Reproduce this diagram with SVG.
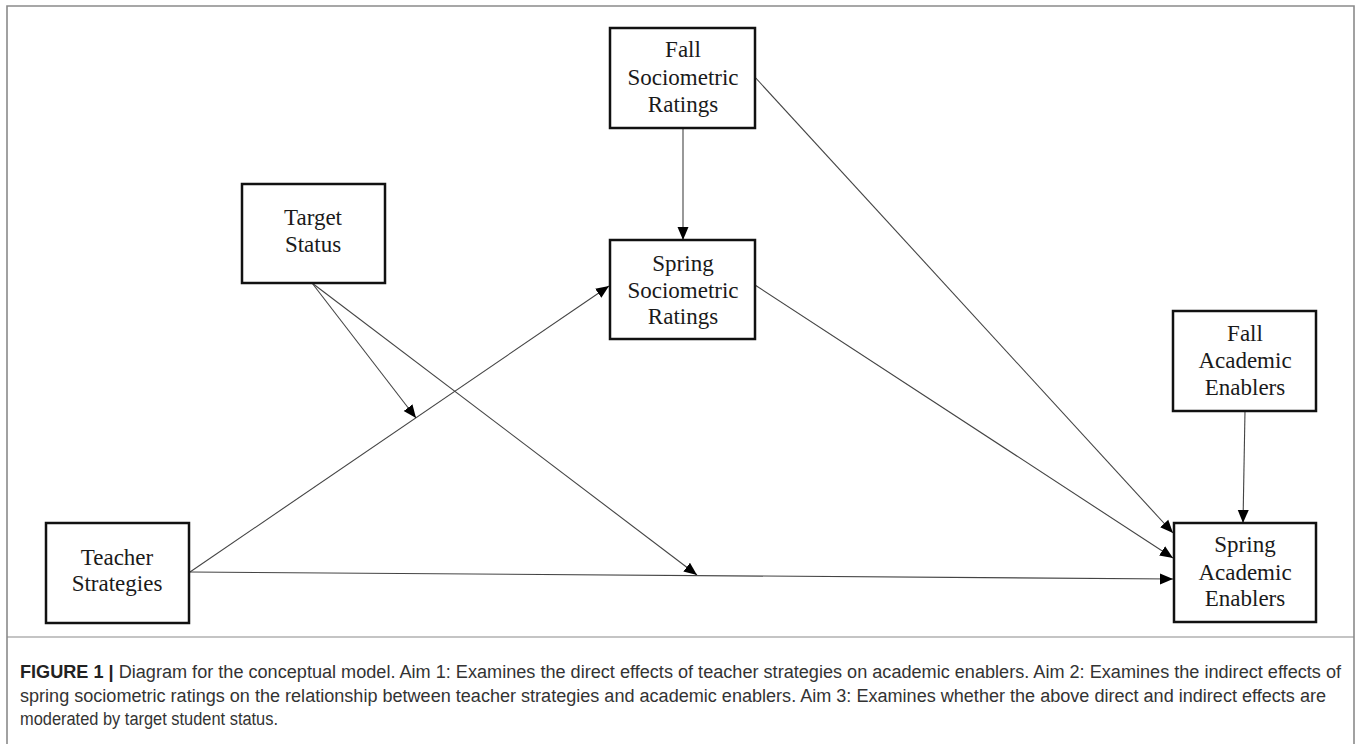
<svg xmlns="http://www.w3.org/2000/svg" width="1358" height="744" viewBox="0 0 1358 744">
<style>
.box{fill:#fff;stroke:#111;stroke-width:2.5}
.lbl{font-family:"Liberation Serif","Times New Roman",serif;font-size:23px;fill:#1a1a1a;text-anchor:middle}
.conn{stroke:#444;stroke-width:1.1;fill:none;marker-end:url(#ah)}
.cap{font-family:"Liberation Sans",Arial,sans-serif;font-size:18px;fill:#333}
.frame{fill:none;stroke:#8a8a8a;stroke-width:1.6}
</style>
<defs>
<marker id="ah" markerUnits="userSpaceOnUse" markerWidth="14" markerHeight="12" refX="13" refY="6" orient="auto">
<path d="M0,0.5 L13,6 L0,11.5 Z" fill="#000"/>
</marker>
</defs>
<rect x="0" y="0" width="1358" height="744" fill="#fff"/>
<path class="frame" d="M7,750 L7,6 L1354,6 L1354,750"/>
<line x1="7" y1="637" x2="1354" y2="637" stroke="#8a8a8a" stroke-width="1.2"/>

<g id="connectors">
<path class="conn" d="M683,128 L683,240"/>
<path class="conn" d="M753,75 L1173,533"/>
<path class="conn" d="M755,285 L1173,558"/>
<path class="conn" d="M190,572 L609,286"/>
<path class="conn" d="M190,572 L1173,579"/>
<path class="conn" d="M312,283 L416,418"/>
<path class="conn" d="M312,283 L697,575"/>
<path class="conn" d="M1245,411 L1243,523"/>
</g>

<g id="fall-sociometric">
<rect class="box" x="610" y="28" width="145" height="100"/>
<text class="lbl" x="683" y="57">Fall</text>
<text class="lbl" x="683" y="85">Sociometric</text>
<text class="lbl" x="683" y="112">Ratings</text>
</g>
<g id="target-status">
<rect class="box" x="242" y="184" width="143" height="99"/>
<text class="lbl" x="313" y="225">Target</text>
<text class="lbl" x="313" y="252">Status</text>
</g>
<g id="spring-sociometric">
<rect class="box" x="610" y="240" width="145" height="99"/>
<text class="lbl" x="683" y="271">Spring</text>
<text class="lbl" x="683" y="298">Sociometric</text>
<text class="lbl" x="683" y="324">Ratings</text>
</g>
<g id="fall-academic">
<rect class="box" x="1173" y="311" width="143" height="100"/>
<text class="lbl" x="1245" y="341">Fall</text>
<text class="lbl" x="1245" y="368">Academic</text>
<text class="lbl" x="1245" y="395">Enablers</text>
</g>
<g id="teacher-strategies">
<rect class="box" x="46" y="523" width="143" height="100"/>
<text class="lbl" x="117" y="565">Teacher</text>
<text class="lbl" x="117" y="591">Strategies</text>
</g>
<g id="spring-academic">
<rect class="box" x="1174" y="523" width="142" height="99"/>
<text class="lbl" x="1245" y="552">Spring</text>
<text class="lbl" x="1245" y="580">Academic</text>
<text class="lbl" x="1245" y="606">Enablers</text>
</g>

<g id="caption">
<text class="cap" x="20" y="678" textLength="1321" lengthAdjust="spacingAndGlyphs"><tspan font-weight="bold" fill="#222">FIGURE 1 |</tspan> Diagram for the conceptual model. Aim 1: Examines the direct effects of teacher strategies on academic enablers. Aim 2: Examines the indirect effects of</text>
<text class="cap" x="20" y="702" textLength="1306" lengthAdjust="spacingAndGlyphs">spring sociometric ratings on the relationship between teacher strategies and academic enablers. Aim 3: Examines whether the above direct and indirect effects are</text>
<text class="cap" x="20" y="725" textLength="258" lengthAdjust="spacingAndGlyphs">moderated by target student status.</text>
</g>
</svg>
